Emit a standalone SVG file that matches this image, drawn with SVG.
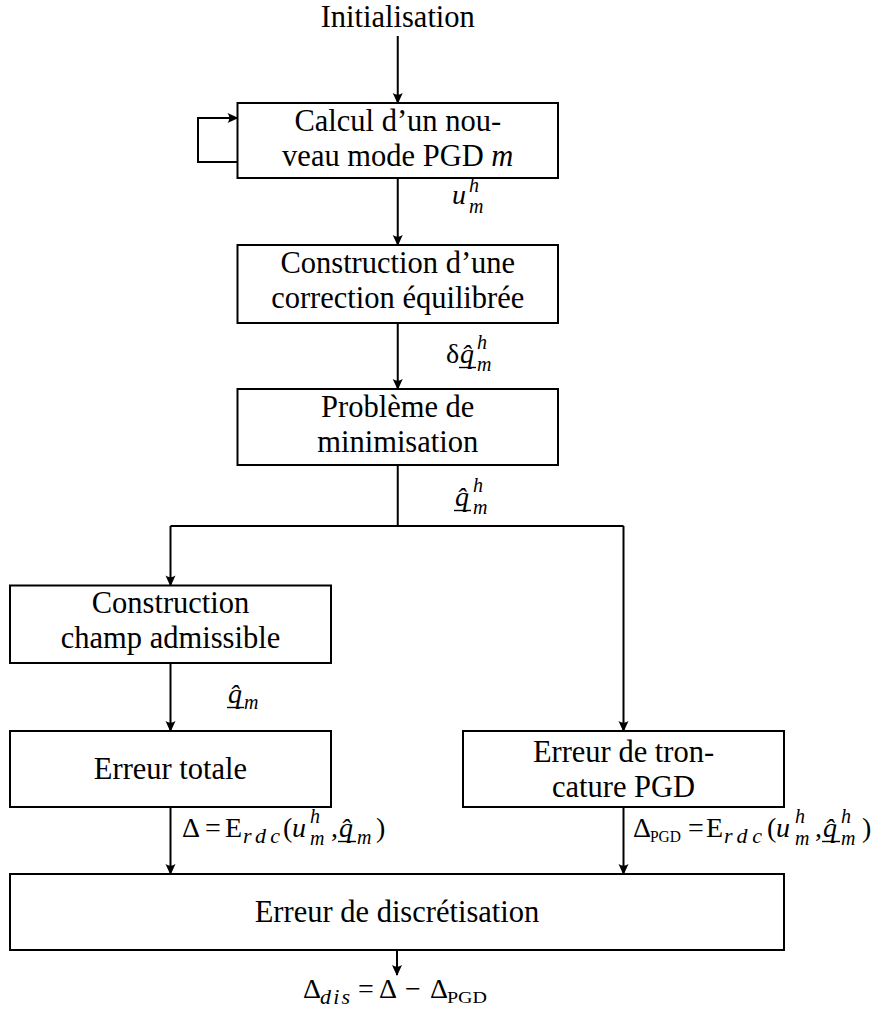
<svg xmlns="http://www.w3.org/2000/svg" width="889" height="1012" viewBox="0 0 889 1012">
<style>
.box{fill:#fff;stroke:#000;stroke-width:2}
.c{fill:none;stroke:#000;stroke-width:2}
.t{font-family:"Liberation Serif",serif;font-size:30.5px;fill:#000;text-anchor:middle}
.lab{font-family:"Liberation Serif",serif;font-size:28px;fill:#000}
.i{font-style:italic}
.s{font-size:20px;font-style:italic}
.w{font-size:22px;font-style:italic}
.su{font-size:17px;font-style:normal}
.ul{stroke:#000;stroke-width:1.4}
</style>
<defs>
<marker id="ah" markerUnits="userSpaceOnUse" markerWidth="14" markerHeight="12" viewBox="-11 -6 13 12" refX="0" refY="0" orient="auto">
<path d="M1,0 L-10,-5 Q-6.5,0 -10,5 Z" fill="#000"/>
</marker>
</defs>

<text class="t" x="397.75" y="27">Initialisation</text>

<g id="connectors">
<path class="c" d="M397.75,36 V103" marker-end="url(#ah)"/>
<path class="c" d="M237.5,162 H198 V118 H237.5" marker-end="url(#ah)"/>
<path class="c" d="M397.75,178 V245" marker-end="url(#ah)"/>
<path class="c" d="M397.75,323 V389" marker-end="url(#ah)"/>
<path class="c" d="M397.75,465 V526"/>
<path class="c" d="M170.5,526 H623.5"/>
<path class="c" d="M170.5,526 V585.5" marker-end="url(#ah)"/>
<path class="c" d="M623.5,526 V731" marker-end="url(#ah)"/>
<path class="c" d="M170.5,663 V731" marker-end="url(#ah)"/>
<path class="c" d="M170.5,807 V874" marker-end="url(#ah)"/>
<path class="c" d="M623.5,807 V874" marker-end="url(#ah)"/>
<path class="c" d="M397,950 V975" marker-end="url(#ah)"/>
</g>

<g id="n1">
<rect class="box" x="237.5" y="103" width="320.5" height="75"/>
<text class="t" x="397.75" y="131">Calcul d’un nou-</text>
<text class="t" x="397.75" y="166">veau mode PGD <tspan font-style="italic">m</tspan></text>
</g>
<g id="n2">
<rect class="box" x="237.5" y="245" width="320.5" height="78"/>
<text class="t" x="397.75" y="273">Construction d’une</text>
<text class="t" x="397.75" y="308">correction équilibrée</text>
</g>
<g id="n3">
<rect class="box" x="237.5" y="389" width="320.5" height="76"/>
<text class="t" x="397.75" y="417">Problème de</text>
<text class="t" x="397.75" y="452">minimisation</text>
</g>
<g id="n4">
<rect class="box" x="10" y="585.5" width="321" height="77.5"/>
<text class="t" x="170.5" y="613">Construction</text>
<text class="t" x="170.5" y="648">champ admissible</text>
</g>
<g id="n5">
<rect class="box" x="10" y="731" width="321" height="76"/>
<text class="t" x="170.5" y="779">Erreur totale</text>
</g>
<g id="n6">
<rect class="box" x="463" y="731" width="321" height="76"/>
<text class="t" x="623.5" y="762">Erreur de tron-</text>
<text class="t" x="623.5" y="797">cature PGD</text>
</g>
<g id="n7">
<rect class="box" x="10" y="874" width="774" height="76"/>
<text class="t" x="397" y="922">Erreur de discrétisation</text>
</g>

<g id="labels">
<!-- u_m^h -->
<text class="lab"><tspan class="i" x="452" y="204">u</tspan><tspan class="s" x="469" y="191.5">h</tspan><tspan class="s" x="469" y="213">m</tspan></text>

<!-- delta q hat _m^h -->
<text class="lab"><tspan x="446" y="363">δ</tspan><tspan class="i" x="460" y="363">q̂</tspan><tspan class="s" x="477" y="348.5">h</tspan><tspan class="s" x="477" y="371">m</tspan></text>
<line class="ul" x1="459" y1="367.5" x2="476" y2="367.5"/>

<!-- q hat _m^h -->
<text class="lab"><tspan class="i" x="455" y="506">q̂</tspan><tspan class="s" x="473" y="491.5">h</tspan><tspan class="s" x="473" y="514">m</tspan></text>
<line class="ul" x1="454" y1="510.5" x2="471" y2="510.5"/>

<!-- q hat _m -->
<text class="lab"><tspan class="i" x="228" y="703">q̂</tspan><tspan class="s" x="244" y="709">m</tspan></text>
<line class="ul" x1="227" y1="707.5" x2="244" y2="707.5"/>

<!-- left: Delta = E_rdc(u_m^h, q_m) -->
<text class="lab"><tspan x="182" y="837">Δ</tspan><tspan x="205" y="837">=</tspan><tspan x="225" y="837">E</tspan><tspan class="w" x="243" y="843" textLength="37" lengthAdjust="spacing">rdc</tspan><tspan x="283" y="837">(</tspan><tspan class="i" x="292" y="837">u</tspan><tspan class="s" x="310" y="822.5">h</tspan><tspan class="s" x="310" y="845">m</tspan><tspan x="331" y="837">,</tspan><tspan class="i" x="339" y="837">q̂</tspan><tspan class="s" x="357" y="844">m</tspan><tspan x="376" y="837">)</tspan></text>
<line class="ul" x1="338" y1="841.5" x2="356" y2="841.5"/>

<!-- right: Delta_PGD = E_rdc(u_m^h, q_m^h) -->
<text class="lab"><tspan x="633" y="837">Δ</tspan><tspan class="su" x="650" y="842" textLength="31" lengthAdjust="spacingAndGlyphs">PGD</tspan><tspan x="688" y="837">=</tspan><tspan x="706" y="837">E</tspan><tspan class="w" x="724" y="843" textLength="38" lengthAdjust="spacing">rdc</tspan><tspan x="767" y="837">(</tspan><tspan class="i" x="776" y="837">u</tspan><tspan class="s" x="795" y="822.5">h</tspan><tspan class="s" x="795" y="845">m</tspan><tspan x="815" y="837">,</tspan><tspan class="i" x="823" y="837">q̂</tspan><tspan class="s" x="841" y="822.5">h</tspan><tspan class="s" x="841" y="845">m</tspan><tspan x="862" y="837">)</tspan></text>
<line class="ul" x1="822" y1="841.5" x2="840" y2="841.5"/>

<!-- bottom: Delta_dis = Delta - Delta_PGD -->
<text class="lab"><tspan x="303" y="998">Δ</tspan><tspan class="w" x="320" y="1004" textLength="30" lengthAdjust="spacing">dis</tspan><tspan x="358" y="998">=</tspan><tspan x="379" y="998">Δ</tspan><tspan x="405" y="998">−</tspan><tspan x="430" y="998">Δ</tspan><tspan class="su" x="447" y="1003" textLength="40" lengthAdjust="spacingAndGlyphs">PGD</tspan></text>
</g>
</svg>
